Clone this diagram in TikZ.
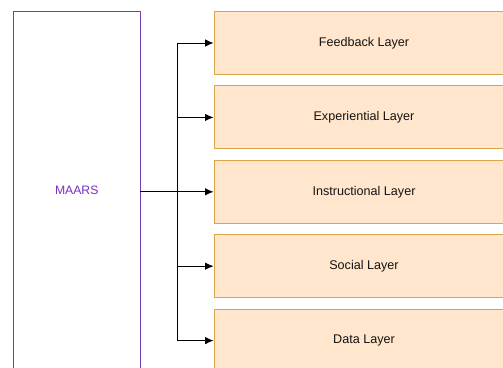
\documentclass[tikz,border=0pt]{standalone}
\usepackage{fontspec}
\setmainfont{Liberation Sans}
\usetikzlibrary{arrows.meta}
\definecolor{layerfill}{HTML}{FFE6CC}
\definecolor{layerdraw}{HTML}{D9A44A}
\definecolor{maarsdraw}{HTML}{7A3DB0}
\definecolor{maarstext}{HTML}{7A2FC0}
\definecolor{txt}{HTML}{141414}
\tikzset{
  layer/.style={draw=layerdraw, fill=layerfill, line width=0.9pt, minimum width=300pt, minimum height=63pt, inner sep=0pt, font=\fontsize{12.6}{14}\selectfont, text=txt},
  maarsbox/.style={draw=maarsdraw, fill=white, line width=0.9pt, minimum width=126.5pt, minimum height=357pt, inner sep=0pt, font=\fontsize{12.2}{14}\selectfont, text=maarstext},
  conn/.style={draw=black, line width=0.9pt},
  arr/.style={conn, -{Latex[length=8.5pt,width=7.5pt]}}
}
\begin{document}
\begin{tikzpicture}[x=1pt,y=-1pt]
\useasboundingbox (0,0) rectangle (503,367);
\clip (0,0) rectangle (503,367);
\node[maarsbox] (maars) at (76.75,190) {MAARS};
\node[layer] (l1) at (364,43) {Feedback Layer};
\node[layer] (l2) at (364,117.4) {Experiential Layer};
\node[layer] (l3) at (364,191.8) {Instructional Layer};
\node[layer] (l4) at (364,266.2) {Social Layer};
\node[layer] (l5) at (364,340.6) {Data Layer};
\coordinate (jt) at (177,43);
\coordinate (jb) at (177,340.6);
\draw[conn] (jt) -- (jb);
\draw[arr] (maars.east |- l3.west) -- (l3.west);
\draw[arr] (jt) -- (l1.west);
\draw[arr] (jt |- l2.west) -- (l2.west);
\draw[arr] (jt |- l4.west) -- (l4.west);
\draw[arr] (jb) -- (l5.west);
\end{tikzpicture}
\end{document}
